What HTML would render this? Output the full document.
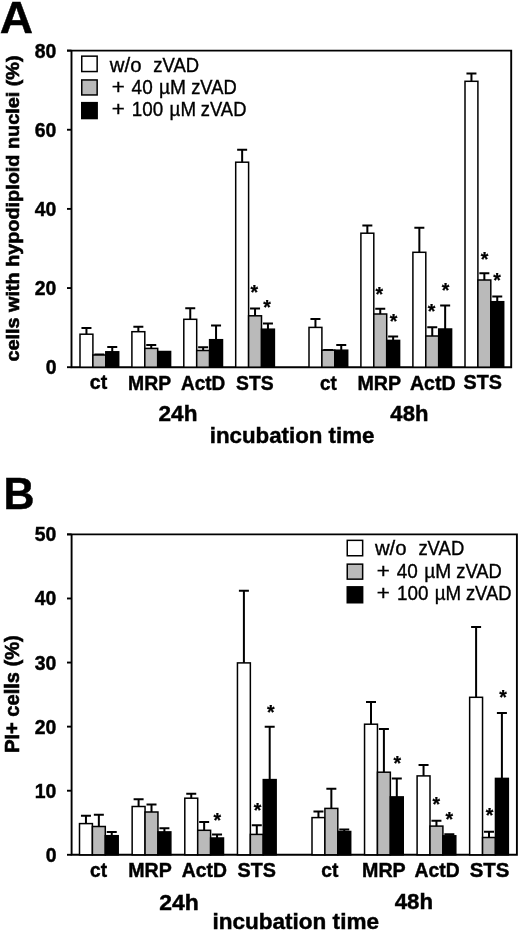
<!DOCTYPE html>
<html><head><meta charset="utf-8"><style>
html,body{margin:0;padding:0;background:#fff;width:520px;height:932px;overflow:hidden}
svg{display:block;filter:blur(0.3px)}
text{font-family:"Liberation Sans",sans-serif}
.b{font-weight:bold;stroke:#000;stroke-width:0.45px}
.yt{stroke-width:0.6px}
.r{font-weight:normal;stroke:#000;stroke-width:0.35px}
.star{font-weight:bold;font-size:19.5px;stroke:#000;stroke-width:0.25px}
</style></head><body>
<svg width="520" height="932" viewBox="0 0 520 932">
<rect width="520" height="932" fill="#fff"/>
<path d="M67 50.6H511.2V367.2H71.5V50.6" fill="none" stroke="#000" stroke-width="1.9"/>
<path d="M67 50.60H71.5" stroke="#000" stroke-width="1.9"/>
<path d="M67 129.75H71.5" stroke="#000" stroke-width="1.9"/>
<path d="M67 208.90H71.5" stroke="#000" stroke-width="1.9"/>
<path d="M67 288.05H71.5" stroke="#000" stroke-width="1.9"/>
<path d="M67 367.20H71.5" stroke="#000" stroke-width="1.9"/>
<path d="M86.45 334.20V328.00M81.45 328.00h10" stroke="#000" stroke-width="2.0" fill="none"/>
<rect x="80.00" y="334.20" width="12.90" height="33.00" fill="#ffffff" stroke="#000" stroke-width="1.5"/>
<path d="M99.35 355.00V354.60M94.35 354.60h10" stroke="#000" stroke-width="2.0" fill="none"/>
<rect x="92.90" y="355.00" width="12.90" height="12.20" fill="#bababa" stroke="#000" stroke-width="1.5"/>
<path d="M112.25 351.80V347.10M107.25 347.10h10" stroke="#000" stroke-width="2.0" fill="none"/>
<rect x="105.80" y="351.80" width="12.90" height="15.40" fill="#000000" stroke="#000" stroke-width="1.5"/>
<path d="M138.35 331.70V326.70M133.35 326.70h10" stroke="#000" stroke-width="2.0" fill="none"/>
<rect x="131.90" y="331.70" width="12.90" height="35.50" fill="#ffffff" stroke="#000" stroke-width="1.5"/>
<path d="M151.25 348.40V344.90M146.25 344.90h10" stroke="#000" stroke-width="2.0" fill="none"/>
<rect x="144.80" y="348.40" width="12.90" height="18.80" fill="#bababa" stroke="#000" stroke-width="1.5"/>
<rect x="157.70" y="351.50" width="12.90" height="15.70" fill="#000000" stroke="#000" stroke-width="1.5"/>
<path d="M190.25 319.30V308.30M185.25 308.30h10" stroke="#000" stroke-width="2.0" fill="none"/>
<rect x="183.80" y="319.30" width="12.90" height="47.90" fill="#ffffff" stroke="#000" stroke-width="1.5"/>
<path d="M203.15 350.50V347.30M198.15 347.30h10" stroke="#000" stroke-width="2.0" fill="none"/>
<rect x="196.70" y="350.50" width="12.90" height="16.70" fill="#bababa" stroke="#000" stroke-width="1.5"/>
<path d="M216.05 339.70V325.50M211.05 325.50h10" stroke="#000" stroke-width="2.0" fill="none"/>
<rect x="209.60" y="339.70" width="12.90" height="27.50" fill="#000000" stroke="#000" stroke-width="1.5"/>
<path d="M242.15 162.20V149.80M237.15 149.80h10" stroke="#000" stroke-width="2.0" fill="none"/>
<rect x="235.70" y="162.20" width="12.90" height="205.00" fill="#ffffff" stroke="#000" stroke-width="1.5"/>
<path d="M255.05 315.80V308.60M250.05 308.60h10" stroke="#000" stroke-width="2.0" fill="none"/>
<rect x="248.60" y="315.80" width="12.90" height="51.40" fill="#bababa" stroke="#000" stroke-width="1.5"/>
<path d="M267.95 329.20V323.60M262.95 323.60h10" stroke="#000" stroke-width="2.0" fill="none"/>
<rect x="261.50" y="329.20" width="12.90" height="38.00" fill="#000000" stroke="#000" stroke-width="1.5"/>
<path d="M315.45 327.40V319.00M310.45 319.00h10" stroke="#000" stroke-width="2.0" fill="none"/>
<rect x="309.00" y="327.40" width="12.90" height="39.80" fill="#ffffff" stroke="#000" stroke-width="1.5"/>
<path d="M328.35 350.20V349.90M323.35 349.90h10" stroke="#000" stroke-width="2.0" fill="none"/>
<rect x="321.90" y="350.20" width="12.90" height="17.00" fill="#bababa" stroke="#000" stroke-width="1.5"/>
<path d="M341.25 350.20V344.90M336.25 344.90h10" stroke="#000" stroke-width="2.0" fill="none"/>
<rect x="334.80" y="350.20" width="12.90" height="17.00" fill="#000000" stroke="#000" stroke-width="1.5"/>
<path d="M367.35 233.20V225.40M362.35 225.40h10" stroke="#000" stroke-width="2.0" fill="none"/>
<rect x="360.90" y="233.20" width="12.90" height="134.00" fill="#ffffff" stroke="#000" stroke-width="1.5"/>
<path d="M380.25 314.00V308.70M375.25 308.70h10" stroke="#000" stroke-width="2.0" fill="none"/>
<rect x="373.80" y="314.00" width="12.90" height="53.20" fill="#bababa" stroke="#000" stroke-width="1.5"/>
<path d="M393.15 340.40V336.60M388.15 336.60h10" stroke="#000" stroke-width="2.0" fill="none"/>
<rect x="386.70" y="340.40" width="12.90" height="26.80" fill="#000000" stroke="#000" stroke-width="1.5"/>
<path d="M419.35 252.30V227.70M414.35 227.70h10" stroke="#000" stroke-width="2.0" fill="none"/>
<rect x="412.90" y="252.30" width="12.90" height="114.90" fill="#ffffff" stroke="#000" stroke-width="1.5"/>
<path d="M432.25 336.00V327.30M427.25 327.30h10" stroke="#000" stroke-width="2.0" fill="none"/>
<rect x="425.80" y="336.00" width="12.90" height="31.20" fill="#bababa" stroke="#000" stroke-width="1.5"/>
<path d="M445.15 329.00V305.50M440.15 305.50h10" stroke="#000" stroke-width="2.0" fill="none"/>
<rect x="438.70" y="329.00" width="12.90" height="38.20" fill="#000000" stroke="#000" stroke-width="1.5"/>
<path d="M471.45 81.30V73.40M466.45 73.40h10" stroke="#000" stroke-width="2.0" fill="none"/>
<rect x="465.00" y="81.30" width="12.90" height="285.90" fill="#ffffff" stroke="#000" stroke-width="1.5"/>
<path d="M484.35 280.00V273.20M479.35 273.20h10" stroke="#000" stroke-width="2.0" fill="none"/>
<rect x="477.90" y="280.00" width="12.90" height="87.20" fill="#bababa" stroke="#000" stroke-width="1.5"/>
<path d="M497.25 301.70V296.50M492.25 296.50h10" stroke="#000" stroke-width="2.0" fill="none"/>
<rect x="490.80" y="301.70" width="12.90" height="65.50" fill="#000000" stroke="#000" stroke-width="1.5"/>
<text x="250.50" y="299.25" class="star">*</text>
<text x="263.30" y="314.05" class="star">*</text>
<text x="375.60" y="300.75" class="star">*</text>
<text x="389.80" y="327.55" class="star">*</text>
<text x="427.80" y="317.75" class="star">*</text>
<text x="441.80" y="296.85" class="star">*</text>
<text x="480.80" y="265.95" class="star">*</text>
<text x="493.20" y="287.45" class="star">*</text>
<rect x="81.75" y="56.15" width="15.40" height="15.40" fill="#ffffff" stroke="#000" stroke-width="1.5"/>
<rect x="81.75" y="79.95" width="15.40" height="15.00" fill="#bababa" stroke="#000" stroke-width="1.5"/>
<rect x="81.75" y="102.65" width="15.40" height="15.90" fill="#000000" stroke="#000" stroke-width="1.5"/>
<path d="M67 534.4H516.9V854.8H71.6V534.4" fill="none" stroke="#000" stroke-width="1.9"/>
<path d="M67 534.40H71.6" stroke="#000" stroke-width="1.9"/>
<path d="M67 598.48H71.6" stroke="#000" stroke-width="1.9"/>
<path d="M67 662.56H71.6" stroke="#000" stroke-width="1.9"/>
<path d="M67 726.64H71.6" stroke="#000" stroke-width="1.9"/>
<path d="M67 790.72H71.6" stroke="#000" stroke-width="1.9"/>
<path d="M67 854.80H71.6" stroke="#000" stroke-width="1.9"/>
<path d="M85.95 823.60V815.80M80.95 815.80h10" stroke="#000" stroke-width="2.0" fill="none"/>
<rect x="79.50" y="823.60" width="12.90" height="31.20" fill="#ffffff" stroke="#000" stroke-width="1.5"/>
<path d="M98.85 826.50V814.80M93.85 814.80h10" stroke="#000" stroke-width="2.0" fill="none"/>
<rect x="92.40" y="826.50" width="12.90" height="28.30" fill="#bababa" stroke="#000" stroke-width="1.5"/>
<path d="M111.75 835.70V831.90M106.75 831.90h10" stroke="#000" stroke-width="2.0" fill="none"/>
<rect x="105.30" y="835.70" width="12.90" height="19.10" fill="#000000" stroke="#000" stroke-width="1.5"/>
<path d="M138.60 806.50V799.20M133.60 799.20h10" stroke="#000" stroke-width="2.0" fill="none"/>
<rect x="132.15" y="806.50" width="12.90" height="48.30" fill="#ffffff" stroke="#000" stroke-width="1.5"/>
<path d="M151.50 812.00V804.60M146.50 804.60h10" stroke="#000" stroke-width="2.0" fill="none"/>
<rect x="145.05" y="812.00" width="12.90" height="42.80" fill="#bababa" stroke="#000" stroke-width="1.5"/>
<path d="M164.40 831.90V828.30M159.40 828.30h10" stroke="#000" stroke-width="2.0" fill="none"/>
<rect x="157.95" y="831.90" width="12.90" height="22.90" fill="#000000" stroke="#000" stroke-width="1.5"/>
<path d="M191.25 798.20V793.70M186.25 793.70h10" stroke="#000" stroke-width="2.0" fill="none"/>
<rect x="184.80" y="798.20" width="12.90" height="56.60" fill="#ffffff" stroke="#000" stroke-width="1.5"/>
<path d="M204.15 830.30V821.90M199.15 821.90h10" stroke="#000" stroke-width="2.0" fill="none"/>
<rect x="197.70" y="830.30" width="12.90" height="24.50" fill="#bababa" stroke="#000" stroke-width="1.5"/>
<path d="M217.05 838.00V834.40M212.05 834.40h10" stroke="#000" stroke-width="2.0" fill="none"/>
<rect x="210.60" y="838.00" width="12.90" height="16.80" fill="#000000" stroke="#000" stroke-width="1.5"/>
<path d="M243.90 662.90V590.80M238.90 590.80h10" stroke="#000" stroke-width="2.0" fill="none"/>
<rect x="237.45" y="662.90" width="12.90" height="191.90" fill="#ffffff" stroke="#000" stroke-width="1.5"/>
<path d="M256.80 834.40V825.20M251.80 825.20h10" stroke="#000" stroke-width="2.0" fill="none"/>
<rect x="250.35" y="834.40" width="12.90" height="20.40" fill="#bababa" stroke="#000" stroke-width="1.5"/>
<path d="M269.70 779.60V726.70M264.70 726.70h10" stroke="#000" stroke-width="2.0" fill="none"/>
<rect x="263.25" y="779.60" width="12.90" height="75.20" fill="#000000" stroke="#000" stroke-width="1.5"/>
<path d="M318.45 817.60V811.50M313.45 811.50h10" stroke="#000" stroke-width="2.0" fill="none"/>
<rect x="312.00" y="817.60" width="12.90" height="37.20" fill="#ffffff" stroke="#000" stroke-width="1.5"/>
<path d="M331.35 808.40V788.80M326.35 788.80h10" stroke="#000" stroke-width="2.0" fill="none"/>
<rect x="324.90" y="808.40" width="12.90" height="46.40" fill="#bababa" stroke="#000" stroke-width="1.5"/>
<path d="M344.25 831.50V829.60M339.25 829.60h10" stroke="#000" stroke-width="2.0" fill="none"/>
<rect x="337.80" y="831.50" width="12.90" height="23.30" fill="#000000" stroke="#000" stroke-width="1.5"/>
<path d="M371.00 724.20V702.10M366.00 702.10h10" stroke="#000" stroke-width="2.0" fill="none"/>
<rect x="364.55" y="724.20" width="12.90" height="130.60" fill="#ffffff" stroke="#000" stroke-width="1.5"/>
<path d="M383.90 772.20V729.00M378.90 729.00h10" stroke="#000" stroke-width="2.0" fill="none"/>
<rect x="377.45" y="772.20" width="12.90" height="82.60" fill="#bababa" stroke="#000" stroke-width="1.5"/>
<path d="M396.80 796.90V778.50M391.80 778.50h10" stroke="#000" stroke-width="2.0" fill="none"/>
<rect x="390.35" y="796.90" width="12.90" height="57.90" fill="#000000" stroke="#000" stroke-width="1.5"/>
<path d="M423.55 775.90V765.10M418.55 765.10h10" stroke="#000" stroke-width="2.0" fill="none"/>
<rect x="417.10" y="775.90" width="12.90" height="78.90" fill="#ffffff" stroke="#000" stroke-width="1.5"/>
<path d="M436.45 826.10V820.80M431.45 820.80h10" stroke="#000" stroke-width="2.0" fill="none"/>
<rect x="430.00" y="826.10" width="12.90" height="28.70" fill="#bababa" stroke="#000" stroke-width="1.5"/>
<path d="M449.35 835.80V834.20M444.35 834.20h10" stroke="#000" stroke-width="2.0" fill="none"/>
<rect x="442.90" y="835.80" width="12.90" height="19.00" fill="#000000" stroke="#000" stroke-width="1.5"/>
<path d="M476.10 697.30V626.90M471.10 626.90h10" stroke="#000" stroke-width="2.0" fill="none"/>
<rect x="469.65" y="697.30" width="12.90" height="157.50" fill="#ffffff" stroke="#000" stroke-width="1.5"/>
<path d="M489.00 837.50V831.70M484.00 831.70h10" stroke="#000" stroke-width="2.0" fill="none"/>
<rect x="482.55" y="837.50" width="12.90" height="17.30" fill="#bababa" stroke="#000" stroke-width="1.5"/>
<path d="M501.90 778.40V713.00M496.90 713.00h10" stroke="#000" stroke-width="2.0" fill="none"/>
<rect x="495.45" y="778.40" width="12.90" height="76.40" fill="#000000" stroke="#000" stroke-width="1.5"/>
<text x="213.60" y="826.85" class="star">*</text>
<text x="253.70" y="816.75" class="star">*</text>
<text x="266.90" y="719.35" class="star">*</text>
<text x="393.60" y="770.15" class="star">*</text>
<text x="432.40" y="811.25" class="star">*</text>
<text x="445.60" y="826.35" class="star">*</text>
<text x="485.80" y="821.75" class="star">*</text>
<text x="499.20" y="703.55" class="star">*</text>
<rect x="347.25" y="540.35" width="15.40" height="15.40" fill="#ffffff" stroke="#000" stroke-width="1.5"/>
<rect x="347.25" y="564.15" width="15.40" height="15.00" fill="#bababa" stroke="#000" stroke-width="1.5"/>
<rect x="347.25" y="586.85" width="15.40" height="15.90" fill="#000000" stroke="#000" stroke-width="1.5"/>
<text transform="translate(34.84 57.55) scale(0.9700 1)" font-size="20" class="b" xml:space="preserve">80</text>
<text transform="translate(34.84 136.70) scale(0.9700 1)" font-size="20" class="b" xml:space="preserve">60</text>
<text transform="translate(34.84 215.85) scale(0.9700 1)" font-size="20" class="b" xml:space="preserve">40</text>
<text transform="translate(34.84 295.00) scale(0.9700 1)" font-size="20" class="b" xml:space="preserve">20</text>
<text transform="translate(45.76 374.15) scale(0.9700 1)" font-size="20" class="b" xml:space="preserve">0</text>
<text transform="translate(109.80 71.60) scale(1.0441 1)" font-size="19.5" class="r" xml:space="preserve">w/o</text>
<text transform="translate(153.29 71.60) scale(0.9476 1)" font-size="19.5" class="r" xml:space="preserve">zVAD</text>
<text transform="translate(111.65 94.40) scale(1.1474 1)" font-size="19.5" class="r" xml:space="preserve">+</text>
<text transform="translate(131.61 94.40) scale(0.9707 1)" font-size="19.5" class="r" xml:space="preserve">40</text>
<text transform="translate(159.07 94.40) scale(0.9818 1)" font-size="19.5" class="r" xml:space="preserve">µM</text>
<text transform="translate(191.19 94.40) scale(0.9412 1)" font-size="19.5" class="r" xml:space="preserve">zVAD</text>
<text transform="translate(111.65 116.40) scale(1.1474 1)" font-size="19.5" class="r" xml:space="preserve">+</text>
<text transform="translate(131.85 116.40) scale(0.9653 1)" font-size="19.5" class="r" xml:space="preserve">100</text>
<text transform="translate(169.60 116.40) scale(0.9616 1)" font-size="19.5" class="r" xml:space="preserve">µM</text>
<text transform="translate(200.79 116.40) scale(0.9433 1)" font-size="19.5" class="r" xml:space="preserve">zVAD</text>
<text transform="translate(89.78 389.30) scale(0.9565 1)" font-size="20.5" class="b" xml:space="preserve">ct</text>
<text transform="translate(128.12 389.70) scale(0.9448 1)" font-size="20.5" class="b" xml:space="preserve">MRP</text>
<text transform="translate(180.94 390.20) scale(0.9269 1)" font-size="20.5" class="b" xml:space="preserve">ActD</text>
<text transform="translate(235.99 390.10) scale(0.9438 1)" font-size="20.5" class="b" xml:space="preserve">STS</text>
<text transform="translate(319.91 389.70) scale(0.9217 1)" font-size="20.5" class="b" xml:space="preserve">ct</text>
<text transform="translate(357.50 389.70) scale(0.9586 1)" font-size="20.5" class="b" xml:space="preserve">MRP</text>
<text transform="translate(409.92 389.70) scale(0.9570 1)" font-size="20.5" class="b" xml:space="preserve">ActD</text>
<text transform="translate(463.58 389.20) scale(0.9647 1)" font-size="20.5" class="b" xml:space="preserve">STS</text>
<text transform="translate(158.53 421.20) scale(1.0266 1)" font-size="22" class="b" xml:space="preserve">24h</text>
<text transform="translate(390.35 420.60) scale(1.0041 1)" font-size="22" class="b" xml:space="preserve">48h</text>
<text transform="translate(209.71 443.20) scale(0.9915 1)" font-size="22.5" class="b" xml:space="preserve">incubation time</text>
<text transform="translate(19.35 361.60) rotate(-90) scale(1.0658 1)" font-size="18.6" class="b yt" xml:space="preserve">cells with hypodiploid nuclei (%)</text>
<text transform="translate(-0.13 33.20) scale(1.0250 1)" font-size="45" class="b" xml:space="preserve">A</text>
<text transform="translate(34.75 541.35) scale(0.9700 1)" font-size="20" class="b" xml:space="preserve">50</text>
<text transform="translate(34.75 605.43) scale(0.9700 1)" font-size="20" class="b" xml:space="preserve">40</text>
<text transform="translate(34.75 669.51) scale(0.9700 1)" font-size="20" class="b" xml:space="preserve">30</text>
<text transform="translate(34.75 733.59) scale(0.9700 1)" font-size="20" class="b" xml:space="preserve">20</text>
<text transform="translate(34.75 797.67) scale(0.9700 1)" font-size="20" class="b" xml:space="preserve">10</text>
<text transform="translate(45.66 861.75) scale(0.9700 1)" font-size="20" class="b" xml:space="preserve">0</text>
<text transform="translate(374.90 555.30) scale(1.0441 1)" font-size="19.5" class="r" xml:space="preserve">w/o</text>
<text transform="translate(418.39 555.30) scale(0.9476 1)" font-size="19.5" class="r" xml:space="preserve">zVAD</text>
<text transform="translate(376.75 578.10) scale(1.1474 1)" font-size="19.5" class="r" xml:space="preserve">+</text>
<text transform="translate(396.71 578.10) scale(0.9707 1)" font-size="19.5" class="r" xml:space="preserve">40</text>
<text transform="translate(424.17 578.10) scale(0.9818 1)" font-size="19.5" class="r" xml:space="preserve">µM</text>
<text transform="translate(456.29 578.10) scale(0.9412 1)" font-size="19.5" class="r" xml:space="preserve">zVAD</text>
<text transform="translate(376.75 600.10) scale(1.1474 1)" font-size="19.5" class="r" xml:space="preserve">+</text>
<text transform="translate(396.95 600.10) scale(0.9653 1)" font-size="19.5" class="r" xml:space="preserve">100</text>
<text transform="translate(434.70 600.10) scale(0.9616 1)" font-size="19.5" class="r" xml:space="preserve">µM</text>
<text transform="translate(465.89 600.10) scale(0.9433 1)" font-size="19.5" class="r" xml:space="preserve">zVAD</text>
<text transform="translate(90.10 877.00) scale(0.9333 1)" font-size="20.5" class="b" xml:space="preserve">ct</text>
<text transform="translate(128.30 877.00) scale(0.9563 1)" font-size="20.5" class="b" xml:space="preserve">MRP</text>
<text transform="translate(181.83 877.00) scale(0.9441 1)" font-size="20.5" class="b" xml:space="preserve">ActD</text>
<text transform="translate(237.48 877.00) scale(0.9647 1)" font-size="20.5" class="b" xml:space="preserve">STS</text>
<text transform="translate(321.20 877.00) scale(0.9391 1)" font-size="20.5" class="b" xml:space="preserve">ct</text>
<text transform="translate(362.00 877.00) scale(0.9609 1)" font-size="20.5" class="b" xml:space="preserve">MRP</text>
<text transform="translate(414.53 877.00) scale(0.9419 1)" font-size="20.5" class="b" xml:space="preserve">ActD</text>
<text transform="translate(469.65 877.00) scale(0.9961 1)" font-size="20.5" class="b" xml:space="preserve">STS</text>
<text transform="translate(159.22 910.40) scale(1.0434 1)" font-size="22" class="b" xml:space="preserve">24h</text>
<text transform="translate(394.75 909.40) scale(1.0097 1)" font-size="22" class="b" xml:space="preserve">48h</text>
<text transform="translate(212.40 928.90) scale(1.0024 1)" font-size="22.5" class="b" xml:space="preserve">incubation time</text>
<text transform="translate(19.10 752.85) rotate(-90) scale(1.0026 1)" font-size="20" class="b yt" xml:space="preserve">PI+ cells (%)</text>
<text transform="translate(3.61 509.40) scale(0.9630 1)" font-size="44.5" class="b" xml:space="preserve">B</text>
</svg>
</body></html>
